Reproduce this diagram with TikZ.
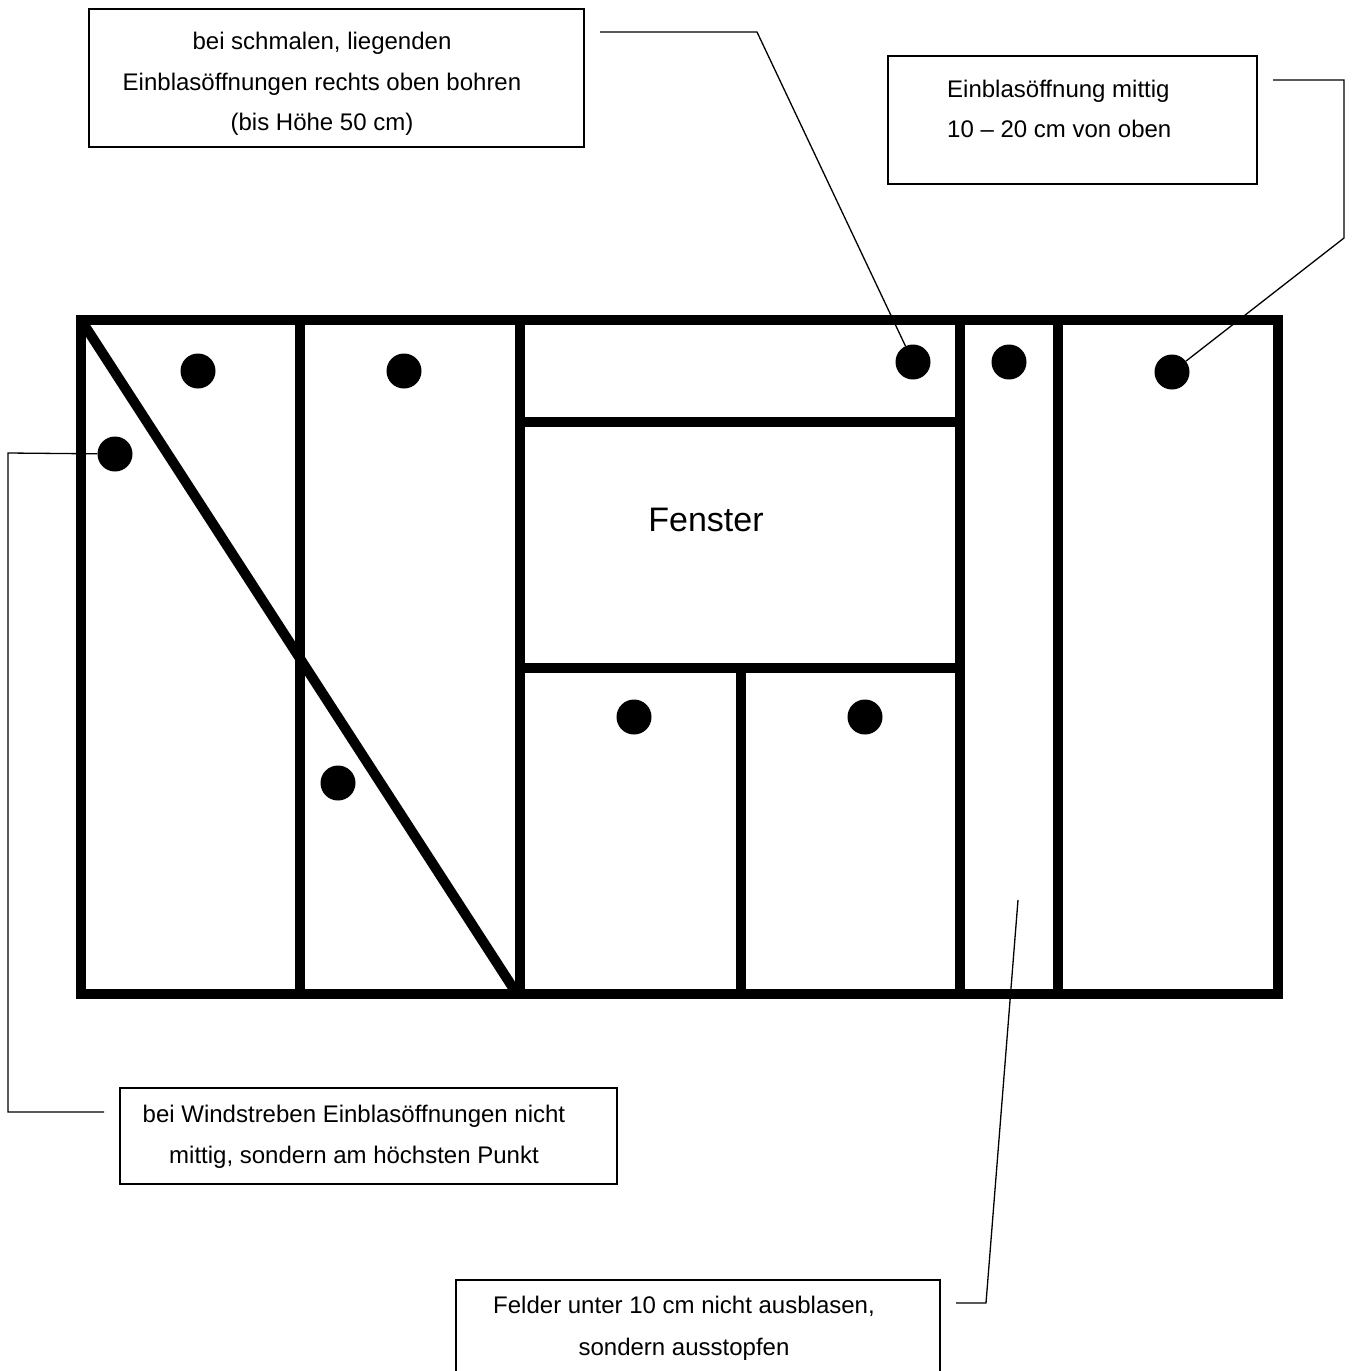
\documentclass[tikz,border=0pt]{standalone}
\usepackage{fontspec}
\setmainfont{Liberation Sans}
\begin{document}
\begin{tikzpicture}[x=1pt,y=-1pt,
  wall/.style={line width=10pt, line join=miter, line cap=rect},
  box/.style={draw, line width=1.4pt, inner sep=0pt, fill=none},
  lead/.style={line width=1.3pt},
  dot/.style={circle, fill=black, inner sep=0pt, minimum size=35pt},
  txt/.style={font=\fontsize{24}{40}\selectfont, anchor=base, inner sep=0pt},
  big/.style={font=\fontsize{34}{40}\selectfont, anchor=base, inner sep=0pt}
]
\useasboundingbox (0,0) rectangle (1353,1371);
\clip (0,0) rectangle (1353,1371);
\fill[white] (0,0) rectangle (1353,1371);

% wall frame
\draw[wall] (81,320) rectangle (1278,994);
\draw[wall] (300,320) -- (300,994);
\draw[wall] (520,320) -- (520,994);
\draw[wall] (960,320) -- (960,994);
\draw[wall] (1058,320) -- (1058,994);
\draw[wall] (520,422) -- (960,422);
\draw[wall] (520,668) -- (960,668);
\draw[wall] (741,668) -- (741,994);
\draw[line width=10pt, line cap=butt] (83,323) -- (517,994);

% dots
\node[dot] (d1) at (198,371) {};
\node[dot] (d2) at (404,371) {};
\node[dot] (d3) at (115,454) {};
\node[dot] (d4) at (338,783) {};
\node[dot] (d5) at (913,362) {};
\node[dot] (d6) at (1009,362) {};
\node[dot] (d7) at (1172,372) {};
\node[dot] (d8) at (634,717) {};
\node[dot] (d9) at (865,717) {};

\node[big] (fenster) at (706,531) {Fenster};

% boxes
\node[box, minimum width=495pt, minimum height=138pt] (b1) at (336.5,78) {};
\node[txt] (t11) at (322,49) {bei schmalen, liegenden};
\node[txt] (t12) at (322,90) {Einblasöffnungen rechts oben bohren};
\node[txt] (t13) at (322,130) {(bis Höhe 50 cm)};

\node[box, minimum width=369pt, minimum height=128pt] (b2) at (1072.5,120) {};
\node[txt, anchor=base west] (t21) at (947,97) {Einblasöffnung mittig};
\node[txt, anchor=base west] (t22) at (947,137) {10 – 20 cm von oben};

\node[box, minimum width=497pt, minimum height=96pt] (b3) at (368.5,1136) {};
\node[txt] (t31) at (354,1122) {bei Windstreben Einblasöffnungen nicht};
\node[txt] (t32) at (354,1163) {mittig, sondern am höchsten Punkt};

\node[box, minimum width=484pt, minimum height=130pt] (b4) at (698,1345) {};
\node[txt] (t41) at (684,1313) {Felder unter 10 cm nicht ausblasen,};
\node[txt] (t42) at (684,1355) {sondern ausstopfen};

% leaders
\coordinate (l1s) at (600,32);
\coordinate (l2s) at (1273,80);
\coordinate (l3s) at (104,1112);
\coordinate (l4s) at (956,1303);
\coordinate (l4e) at (1018,900);
\draw[lead] (l1s) -- (757,32) -- (d5);
\draw[lead] (l2s) -- (1344,80) -- (1344,238) -- (d7);
\draw[lead] (l3s) -- (8,1112) -- (8,453) -- (d3);
\draw[lead] (l4s) -- (986,1303) -- (l4e);
\end{tikzpicture}
\end{document}
